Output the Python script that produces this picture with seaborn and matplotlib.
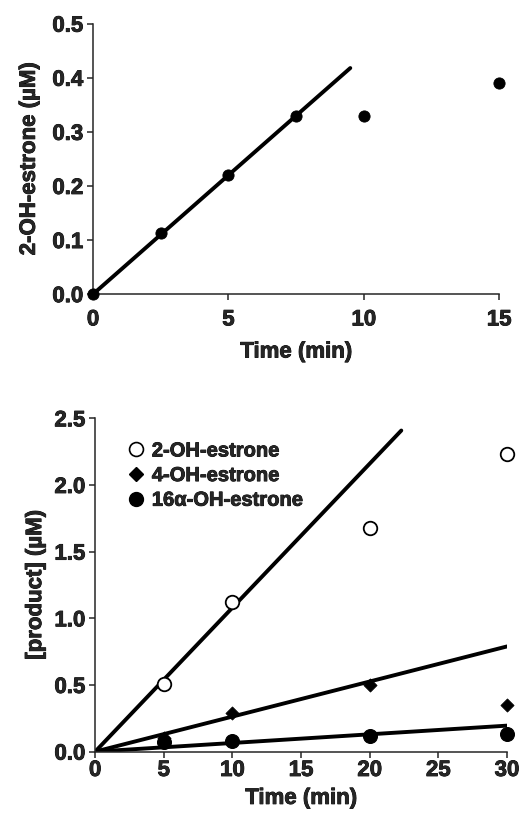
import numpy as np
import pandas as pd
import seaborn as sns
import matplotlib.pyplot as plt
import matplotlib.patheffects as pe
from matplotlib.lines import Line2D

sns.set_style("ticks")
plt.rcParams['font.family'] = ['Liberation Sans', 'DejaVu Sans']
plt.rcParams['font.weight'] = 'bold'
plt.rcParams['axes.labelweight'] = 'bold'

# Top panel: 2-OH-estrone time course
top_time = [0, 2.5, 5, 7.5, 10, 15]
top_conc = [0.0, 0.113, 0.22, 0.33, 0.33, 0.39]
top_fit_x = [0, 9.5]
top_slope = 0.044

# Bottom panel: products at 30 min scale
bot_time = [5, 10, 20, 30]
oh2 = [0.51, 1.12, 1.68, 2.23]
oh4 = [0.10, 0.29, 0.50, 0.35]
oh16 = [0.07, 0.08, 0.12, 0.13]
fit_ends = {"2-OH-estrone": 22.3, "4-OH-estrone": 30, "16α-OH-estrone": 30}
slopes = {"2-OH-estrone": 0.108, "4-OH-estrone": 0.0263, "16α-OH-estrone": 0.0065}

heavy = [pe.withStroke(linewidth=0.6, foreground="black")]

fig = plt.figure(figsize=(5.2, 8.17), dpi=100)
ax1 = fig.add_axes([0.179, 0.640, 0.781, 0.331])
ax2 = fig.add_axes([0.183, 0.080, 0.792, 0.408])

def style_axes(ax, xpad):
    sns.despine(ax=ax)
    for s in ["left", "bottom"]:
        ax.spines[s].set_linewidth(1.1)
    ax.tick_params(direction="out", length=4, width=1.1, labelsize=16, pad=3)
    ax.tick_params(axis="x", pad=xpad)
    for t in ax.get_xticklabels() + ax.get_yticklabels():
        t.set_fontweight("bold")
        t.set_path_effects(heavy)
    ax.xaxis.label.set_path_effects(heavy)
    ax.yaxis.label.set_path_effects(heavy)

# ---- top panel
ax1.plot(top_fit_x, [top_slope * x for x in top_fit_x], color="black", lw=2.8, zorder=2)
sns.scatterplot(x=top_time, y=top_conc, ax=ax1, color="black", s=65, edgecolor="black",
                marker="o", zorder=3, clip_on=False)
ax1.set_xlim(0, 15)
ax1.set_ylim(0, 0.5)
ax1.set_xticks([0, 5, 10, 15])
ax1.set_yticks(np.arange(0, 0.51, 0.1))
ax1.set_yticklabels([f"{v:.1f}" for v in np.arange(0, 0.51, 0.1)])
ax1.set_xlabel("Time (min)", fontsize=16, labelpad=8)
ax1.set_ylabel("2-OH-estrone (µM)", fontsize=16, labelpad=9)
style_axes(ax1, 7)

# ---- bottom panel
df = pd.DataFrame({
    "time": bot_time * 3,
    "conc": oh2 + oh4 + oh16,
    "product": ["2-OH-estrone"] * 4 + ["4-OH-estrone"] * 4 + ["16α-OH-estrone"] * 4,
})
for name, end in fit_ends.items():
    ax2.plot([0, end], [0, slopes[name] * end], color="black", lw=2.8, zorder=2)

sns.scatterplot(data=df[df["product"] == "2-OH-estrone"], x="time", y="conc", ax=ax2,
                marker="o", s=95, facecolor="white", edgecolor="black", linewidth=1.3,
                zorder=3, clip_on=False, legend=False)
sns.scatterplot(data=df[df["product"] == "4-OH-estrone"], x="time", y="conc", ax=ax2,
                marker="D", s=45, color="black", edgecolor="black",
                zorder=3, clip_on=False, legend=False)
sns.scatterplot(data=df[df["product"] == "16α-OH-estrone"], x="time", y="conc", ax=ax2,
                marker="o", s=100, color="black", edgecolor="black",
                zorder=3, clip_on=False, legend=False)
ax2.set_xlim(0, 30)
ax2.set_ylim(0, 2.5)
ax2.set_xticks(range(0, 31, 5))
ax2.set_yticks(np.arange(0, 2.51, 0.5))
ax2.set_yticklabels([f"{v:.1f}" for v in np.arange(0, 2.51, 0.5)])
ax2.set_xlabel("Time (min)", fontsize=16, labelpad=5)
ax2.set_ylabel("[product] (µM)", fontsize=16, labelpad=6)
style_axes(ax2, 2)

handles = [
    Line2D([], [], marker="o", ls="", ms=10, mfc="white", mec="black", mew=1.2),
    Line2D([], [], marker="D", ls="", ms=7, mfc="black", mec="black"),
    Line2D([], [], marker="o", ls="", ms=10, mfc="black", mec="black"),
]
leg = ax2.legend(handles, list(fit_ends.keys()), loc="upper left",
                 bbox_to_anchor=(0.03, 0.985), frameon=False, handletextpad=0.3,
                 labelspacing=0.28, handlelength=1.0,
                 prop={"size": 14.5, "weight": "bold"})
for t in leg.get_texts():
    t.set_path_effects(heavy)

fig.savefig("out.png", dpi=100)
